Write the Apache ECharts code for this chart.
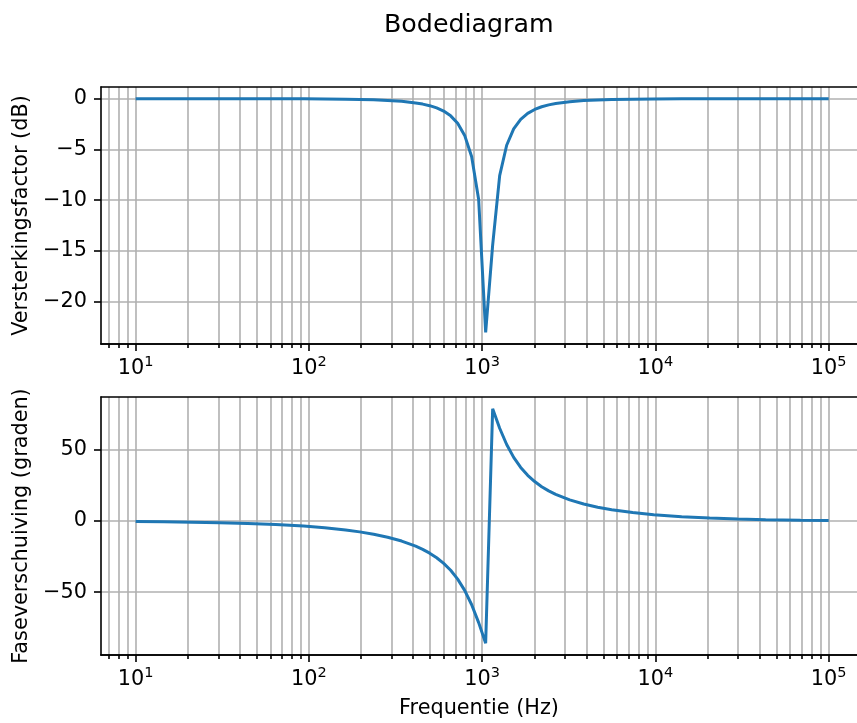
<!DOCTYPE html>
<html>
<head>
<meta charset="utf-8">
<script src="https://cdn.jsdelivr.net/npm/echarts@6/dist/echarts.min.js"></script>
<style>
  html, body { margin: 0; padding: 0; background: #fff; }
  #chart { width: 857px; height: 723px; }
</style>
</head>
<body>
<div id="chart"></div>
<script>
// frequency points (Hz)
const freq = [10, 14.51, 21.05, 30.54, 44.31, 64.29, 93.26, 123.3, 163.0, 196.3,
  236.4, 284.8, 343.0, 413.2, 453.5, 497.7, 546.2, 599.5, 657.9, 722.1,
  792.5, 869.8, 954.5, 1047.6, 1149.8, 1261.9, 1385.0, 1520.1, 1668.4, 1831.1,
  2009.7, 2205.7, 2420.8, 2656.9, 3200.5, 3854.2, 4641.6, 5590.8, 7390.2, 9770,
  14171, 20565, 29837, 43288, 68926, 100000];

// gain in dB
const gainDb = [0, 0, -0.001, -0.002, -0.004, -0.008, -0.016, -0.029, -0.052, -0.076,
  -0.114, -0.172, -0.264, -0.418, -0.535, -0.692, -0.911, -1.225, -1.694, -2.422,
  -3.62, -5.733, -9.943, -23.03, -14.41, -7.58, -4.59, -2.984, -2.039, -1.45,
  -1.064, -0.799, -0.612, -0.476, -0.298, -0.192, -0.127, -0.085, -0.047, -0.027,
  -0.013, -0.006, -0.003, -0.001, -0.001, 0];

// phase in degrees
const phaseDeg = [-0.38, -0.55, -0.79, -1.15, -1.67, -2.42, -3.53, -4.68, -6.25, -7.59,
  -9.25, -11.36, -14.06, -17.64, -19.89, -22.57, -25.78, -29.73, -34.62, -40.83,
  -48.76, -58.88, -71.44, -85.96, 79.03, 65.3, 53.88, 44.82, 37.74, 32.2,
  27.78, 24.2, 21.26, 18.79, 14.91, 12.01, 9.77, 7.99, 5.97, 4.48,
  3.07, 2.11, 1.45, 1.0, 0.63, 0.43];

const decadeTicks = [10, 100, 1000, 10000, 100000];
const gainTicks = [-20, -15, -10, -5, 0];
const phaseTicks = [-50, 0, 50];

// minor log ticks 2..9 x 10^n inside the visible range
const minorTicks = [7, 8, 9];
for (let d = 10; d <= 10000; d *= 10) {
  for (let m = 2; m <= 9; m++) minorTicks.push(m * d);
}

const FONT = 'DejaVu Sans';
// axes run past the right edge of the picture, like the cropped original
const X_MIN = 6.3096, X_MAX = 145700;
const SPINE = { color: '#000', width: 1.6 };
const GRIDLINE = { color: '#b0b0b0', width: 1.6 };

function minus(v) {
  return String(v).replace('-', '\u2212');
}

function xAxisFor(grid, ticks, tickLen, withLabels, name) {
  const ax = {
    type: 'log',
    logBase: 10,
    gridIndex: grid,
    position: 'bottom',
    min: X_MIN,
    max: X_MAX,
    axisLine: { show: true, onZero: false, lineStyle: SPINE },
    axisTick: { show: true, inside: false, length: tickLen, customValues: ticks, lineStyle: SPINE },
    axisLabel: { show: false },
    splitLine: { show: true, lineStyle: GRIDLINE },
    minorTick: { show: false },
    minorSplitLine: { show: false }
  };
  if (withLabels) {
    ax.axisLabel = {
      show: true,
      customValues: decadeTicks,
      margin: 11,
      color: '#000',
      fontFamily: FONT,
      formatter: function (v) {
        return '{b|10}{s|' + Math.round(Math.log10(v)) + '}';
      },
      rich: {
        b: { fontSize: 20.8, fontFamily: FONT, color: '#000', lineHeight: 24, verticalAlign: 'bottom' },
        s: { fontSize: 14.5, fontFamily: FONT, color: '#000', lineHeight: 14, verticalAlign: 'top' }
      }
    };
  }
  if (name) {
    ax.name = name;
    ax.nameLocation = 'middle';
    ax.nameGap = 43;
    ax.nameTextStyle = { fontSize: 20.8, fontFamily: FONT, color: '#000' };
  }
  return ax;
}

// plain top spine
function topSpine(grid) {
  return {
    type: 'log',
    gridIndex: grid,
    position: 'top',
    min: X_MIN,
    max: X_MAX,
    axisLine: { show: true, onZero: false, lineStyle: SPINE },
    axisTick: { show: false },
    axisLabel: { show: false },
    splitLine: { show: false }
  };
}

function yAxisFor(grid, min, max, ticks, name) {
  return {
    type: 'value',
    gridIndex: grid,
    min: min,
    max: max,
    axisLine: { show: true, onZero: false, lineStyle: SPINE },
    axisTick: { show: true, inside: false, length: 7, customValues: ticks, lineStyle: SPINE },
    axisLabel: {
      customValues: ticks,
      margin: 14,
      color: '#000',
      fontSize: 20.8,
      fontFamily: FONT,
      formatter: minus
    },
    splitLine: { show: true, lineStyle: GRIDLINE },
    name: name,
    nameLocation: 'middle',
    nameGap: 64,
    nameTextStyle: { fontSize: 20.8, fontFamily: FONT, color: '#000' }
  };
}

const chart = echarts.init(document.getElementById('chart'));
chart.setOption({
  animation: false,
  backgroundColor: '#fff',
  title: {
    text: 'Bodediagram',
    left: 384,
    top: 13,
    padding: 0,
    textStyle: { fontSize: 25.3, fontWeight: 'normal', color: '#000', fontFamily: FONT }
  },
  grid: [
    { left: 101, top: 87, width: 756, height: 257 },
    { left: 101, top: 397, width: 756, height: 258 }
  ],
  xAxis: [
    xAxisFor(0, decadeTicks, 7, true),
    xAxisFor(0, minorTicks, 4, false),
    xAxisFor(1, decadeTicks, 7, true, 'Frequentie (Hz)'),
    xAxisFor(1, minorTicks, 4, false),
    topSpine(0),
    topSpine(1)
  ],
  yAxis: [
    yAxisFor(0, -24.18, 1.15, gainTicks, 'Versterkingsfactor (dB)'),
    yAxisFor(1, -94.21, 87.28, phaseTicks, 'Faseverschuiving (graden)')
  ],
  series: [
    {
      type: 'line',
      xAxisIndex: 0,
      yAxisIndex: 0,
      data: freq.map((f, i) => [f, gainDb[i]]),
      showSymbol: false,
      symbol: 'none',
      lineStyle: { color: '#1f77b4', width: 3 },
      z: 5
    },
    {
      type: 'line',
      xAxisIndex: 2,
      yAxisIndex: 1,
      data: freq.map((f, i) => [f, phaseDeg[i]]),
      showSymbol: false,
      symbol: 'none',
      lineStyle: { color: '#1f77b4', width: 3 },
      z: 5
    }
  ]
});
</script>
</body>
</html>
